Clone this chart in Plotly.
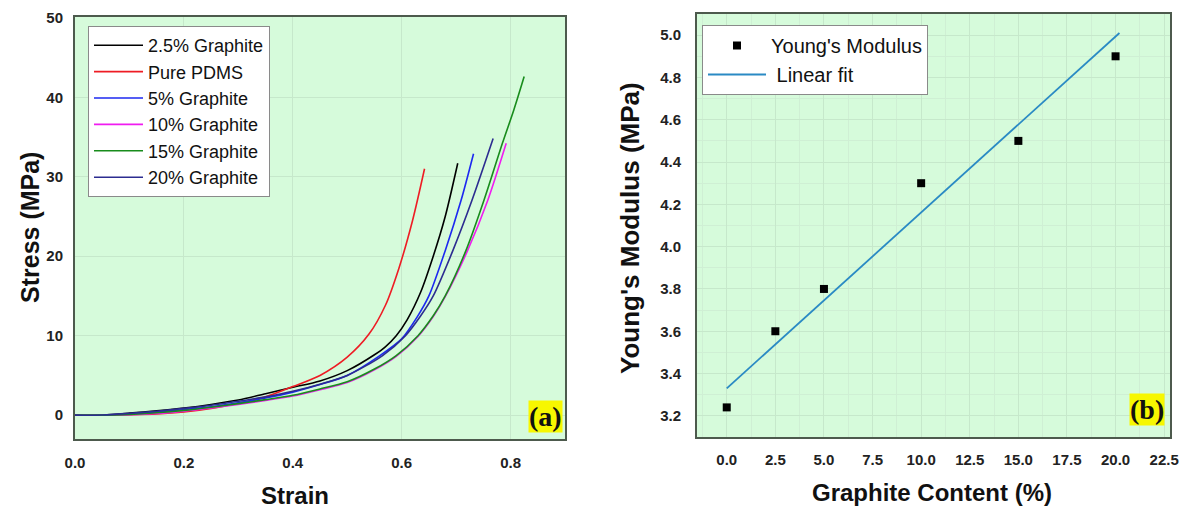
import plotly.graph_objects as go

# ---------------- data: panel (a) stress-strain curves ----------------
strain_25 = [0, 0.05, 0.10, 0.15, 0.20, 0.25, 0.30, 0.35, 0.40, 0.45, 0.50, 0.55, 0.57, 0.59, 0.61, 0.635, 0.658, 0.68, 0.703]
stress_25 = [0, 0.02, 0.25, 0.55, 0.9, 1.35, 1.9, 2.7, 3.5, 4.3, 5.6, 7.6, 8.6, 10.0, 12.0, 15.5, 20.0, 25.0, 31.7]

strain_pdms = [0, 0.05, 0.10, 0.15, 0.20, 0.25, 0.30, 0.35, 0.40, 0.45, 0.50, 0.54, 0.57, 0.595, 0.62, 0.642]
stress_pdms = [0, 0, 0.05, 0.15, 0.4, 0.85, 1.5, 2.3, 3.6, 5.0, 7.3, 10.2, 13.8, 18.5, 24.5, 31.0]

strain_5 = [0, 0.05, 0.10, 0.15, 0.20, 0.25, 0.30, 0.35, 0.40, 0.45, 0.50, 0.56, 0.60, 0.628, 0.65, 0.68, 0.709, 0.732]
stress_5 = [0, 0.01, 0.15, 0.38, 0.7, 1.05, 1.55, 2.15, 2.9, 3.85, 5.0, 7.5, 9.6, 12.3, 15.0, 20.7, 27.0, 32.9]

strain_10 = [0, 0.05, 0.10, 0.15, 0.20, 0.25, 0.30, 0.35, 0.40, 0.45, 0.50, 0.55, 0.59, 0.63, 0.658, 0.68, 0.721, 0.758, 0.792]
stress_10 = [0, 0, 0.05, 0.2, 0.5, 0.9, 1.35, 1.85, 2.4, 3.2, 4.1, 5.7, 7.4, 9.9, 12.4, 14.9, 20.7, 27.0, 34.2]

strain_15 = [0, 0.05, 0.10, 0.15, 0.20, 0.25, 0.30, 0.35, 0.40, 0.45, 0.50, 0.55, 0.59, 0.63, 0.658, 0.68, 0.718, 0.751, 0.785, 0.806, 0.825]
stress_15 = [0, 0.01, 0.1, 0.3, 0.6, 1.0, 1.45, 1.95, 2.5, 3.3, 4.2, 5.8, 7.5, 10.0, 12.5, 15.0, 20.7, 27.0, 34.2, 38.4, 42.6]

strain_20 = [0, 0.05, 0.10, 0.15, 0.20, 0.25, 0.30, 0.35, 0.40, 0.45, 0.50, 0.565, 0.607, 0.635, 0.658, 0.694, 0.729, 0.768]
stress_20 = [0, 0.02, 0.22, 0.5, 0.85, 1.25, 1.75, 2.3, 3.0, 3.9, 5.0, 7.5, 10.0, 12.5, 15.0, 20.7, 27.0, 34.8]

series_names = ["2.5% Graphite", "Pure PDMS", "5% Graphite", "10% Graphite", "15% Graphite", "20% Graphite"]

# ---------------- data: panel (b) Young's modulus ----------------
graphite_content = [0, 2.5, 5, 10, 15, 20]
youngs_modulus = [3.24, 3.60, 3.80, 4.30, 4.50, 4.90]
fit_content = [0, 20.2]
fit_modulus = [3.33, 5.01]

W, H = 1194, 509
FONT = "Liberation Sans, Arial, sans-serif"
BG = "#d6fbdb"
BORDER = "#4d5a4d"
GRID = "#c6e8cb"

fig = go.Figure()

curves = [
    (series_names[0], strain_25, stress_25, "#000000"),
    (series_names[1], strain_pdms, stress_pdms, "#ee1c24"),
    (series_names[2], strain_5, stress_5, "#1c28f0"),
    (series_names[3], strain_10, stress_10, "#f01cf0"),
    (series_names[4], strain_15, stress_15, "#188c1c"),
    (series_names[5], strain_20, stress_20, "#2c2c90"),
]
for name, xs, ys, col in curves:
    fig.add_trace(go.Scatter(
        x=xs, y=ys, mode="lines", name=name,
        line=dict(color=col, width=1.6, shape="spline", smoothing=0.8),
        xaxis="x", yaxis="y", legend="legend"))

fig.add_trace(go.Scatter(
    x=graphite_content, y=youngs_modulus, mode="markers", name="Young's Modulus",
    marker=dict(symbol="square", size=8, color="#000000"),
    xaxis="x2", yaxis="y2", legend="legend2"))
fig.add_trace(go.Scatter(
    x=fit_content, y=fit_modulus, mode="lines", name=" Linear fit",
    line=dict(color="#2a8ac4", width=1.8),
    xaxis="x2", yaxis="y2", legend="legend2"))

tickfont = dict(family=FONT, size=15, color="#222222", weight="bold")

def ax(**kw):
    base = dict(showline=True, mirror=True, linecolor=BORDER, linewidth=2,
                showgrid=True, gridcolor=GRID, gridwidth=1, zeroline=False,
                automargin=False,
                ticks="outside", tickcolor="rgba(0,0,0,0)", tickfont=tickfont)
    base.update(kw)
    return base

fig.update_layout(
    width=W, height=H,
    margin=dict(l=0, r=0, t=0, b=0, autoexpand=False),
    paper_bgcolor="white",
    plot_bgcolor=BG,
    showlegend=True,
    xaxis=ax(domain=[75 / W, 565 / W], range=[0, 0.9], dtick=0.2, tickformat=".1f", ticklen=9,
             anchor="y"),
    yaxis=ax(domain=[1 - 439 / H, 1 - 17 / H], range=[-3, 50.1], dtick=10, ticklen=7,
             anchor="x"),
    xaxis2=ax(domain=[697 / W, 1170 / W], range=[-1.53, 22.8], dtick=2.5, tickformat=".1f", ticklen=8,
              anchor="y2", minor=dict(showgrid=True, gridcolor="#cfefd4", dtick=1.25)),
    yaxis2=ax(domain=[1 - 437 / H, 1 - 14 / H], range=[3.1, 5.1], dtick=0.2, tickformat=".1f", ticklen=11,
              anchor="x2", minor=dict(showgrid=True, gridcolor="#cfefd4", dtick=0.1)),
    legend=dict(x=88 / W, y=1 - 26 / H, xanchor="left", yanchor="top",
                bgcolor="white", bordercolor="#8a8a8a", borderwidth=1,
                font=dict(family=FONT, size=18, color="#111111"),
                itemwidth=49, tracegroupgap=0),
    legend2=dict(x=702 / W, y=1 - 25 / H, xanchor="left", yanchor="top",
                 bgcolor="white", bordercolor="#8a8a8a", borderwidth=1,
                 font=dict(family=FONT, size=20, color="#111111"),
                 itemwidth=58),
)

annots = [
    dict(text="Stress (MPa)", x=30 / W, y=1 - 228 / H, textangle=-90, size=25),
    dict(text="Strain", x=295 / W, y=1 - 495 / H, textangle=0, size=24),
    dict(text="Young's Modulus (MPa)", x=630 / W, y=1 - 228 / H, textangle=-90, size=26),
    dict(text="Graphite Content (%)", x=932 / W, y=1 - 492 / H, textangle=0, size=24),
]
for a in annots:
    size = a.pop("size")
    fig.add_annotation(xref="paper", yref="paper", xanchor="center", yanchor="middle",
                       showarrow=False,
                       font=dict(family=FONT, size=size, color="#111111", weight="bold"), **a)

panel_font = dict(family="Liberation Serif, Times New Roman, serif", size=28, color="#111111", weight="bold")
fig.add_annotation(xref="paper", yref="paper", x=545 / W, y=1 - 416 / H, text="(a)",
                   showarrow=False, font=panel_font, bgcolor="#f7f700", borderpad=0,
                   xanchor="center", yanchor="middle")
fig.add_annotation(xref="paper", yref="paper", x=1147 / W, y=1 - 409 / H, text="(b)",
                   showarrow=False, font=panel_font, bgcolor="#f7f700", borderpad=0,
                   xanchor="center", yanchor="middle")

fig.write_html("out.html")
